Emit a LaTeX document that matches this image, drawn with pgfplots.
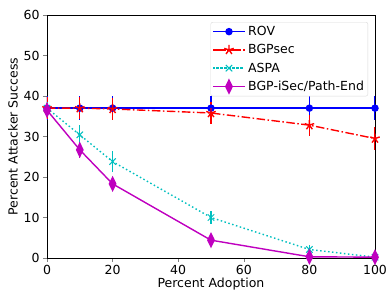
\documentclass[border=0pt]{standalone}
\usepackage{pgfplots}
\pgfplotsset{compat=1.18}
\usepackage{fontspec}
\setmainfont{DejaVu Sans}
\definecolor{mc}{rgb}{0,0.75,0.75}
\definecolor{mm}{rgb}{0.75,0,0.75}
\begin{document}
\begin{tikzpicture}
\begin{axis}[
  scale only axis,
  width=328pt, height=243pt,
  xmin=0, xmax=100, ymin=0, ymax=60,
  xtick={0,20,40,60,80,100}, ytick={0,10,20,30,40,50,60},
  xlabel={Percent Adoption}, ylabel={Percent Attacker Success},
  font=\fontsize{12.5}{15}\selectfont,
  tick label style={font=\fontsize{12.5}{15}\selectfont},
  /pgf/number format/assume math mode=true,
  tick align=outside, tick pos=left,
  major tick length=4pt,
  every axis x label/.style={at={(axis description cs:0.5,0)}, anchor=center, yshift=-26pt},
  every axis y label/.style={at={(axis description cs:0,0.5)}, anchor=center, rotate=90, yshift=34pt},
  legend cell align=left,
  legend style={draw=black!15, rounded corners=2pt, font=\fontsize{12.5}{15}\selectfont, row sep=3.5pt, inner sep=2pt, at={(0.979,0.971)}, anchor=north east},
  legend image code/.code={
    \path (-3pt,0pt) -- (29pt,0pt);
    \draw[mark repeat=2,mark phase=2,#1] plot coordinates {(0pt,0pt) (12.5pt,0pt) (25pt,0pt)};},
  error bars/y dir=both, error bars/y explicit,
  every axis plot/.append style={line width=1.4pt},
]
\addplot[blue, mark=*, mark size=3pt, error bars/error mark=none, error bars/error bar style={blue,line width=1.4pt}] coordinates {
 (0,37) +- (0,3) (10,37) +- (0,3) (20,37) +- (0,3) (50,37) +- (0,3) (80,37) +- (0,3) (100,37) +- (0,3)};
\addlegendentry{ROV}
\addplot[red, dash pattern=on 8.5pt off 2.5pt on 1.5pt off 2.5pt, mark=star, mark size=5pt, mark options={solid}, error bars/error mark=none, error bars/error bar style={red,line width=1.4pt,solid}] coordinates {
 (0,37) +- (0,2.8) (10,37) +- (0,2.8) (20,36.8) +- (0,2.8) (50,35.8) +- (0,2.8) (80,32.8) +- (0,2.6) (100,29.5) +- (0,2.8)};
\addlegendentry{BGPsec}
\addplot[mc, dash pattern=on 1.5pt off 2.5pt, mark=x, mark size=4.5pt, mark options={solid, line width=1pt}, error bars/error mark=none, error bars/error bar style={mc,line width=1.4pt,solid}] coordinates {
 (0,37) +- (0,1.5) (10,30.4) +- (0,2.5) (20,23.8) +- (0,2.5) (50,10) +- (0,1.5) (80,2.1) +- (0,1) (100,0.2) +- (0,0.4)};
\addlegendentry{ASPA}
\addplot[mm, mark=diamond*, mark size=6.5pt, mark options={xscale=0.65}, error bars/error mark=none, error bars/error bar style={mm,line width=1.4pt}] coordinates {
 (0,36.5) +- (0,1) (10,26.7) +- (0,2) (20,18.3) +- (0,1.5) (50,4.4) +- (0,1) (80,0.3) +- (0,0.4) (100,0.2) +- (0,0.3)};
\addlegendentry{BGP-iSec/Path-End}
\end{axis}
\pgfresetboundingbox
\path[use as bounding box] ([shift={(-47pt,-35pt)}]current axis.south west) rectangle ([shift={(11pt,15pt)}]current axis.north east);
\end{tikzpicture}
\end{document}
